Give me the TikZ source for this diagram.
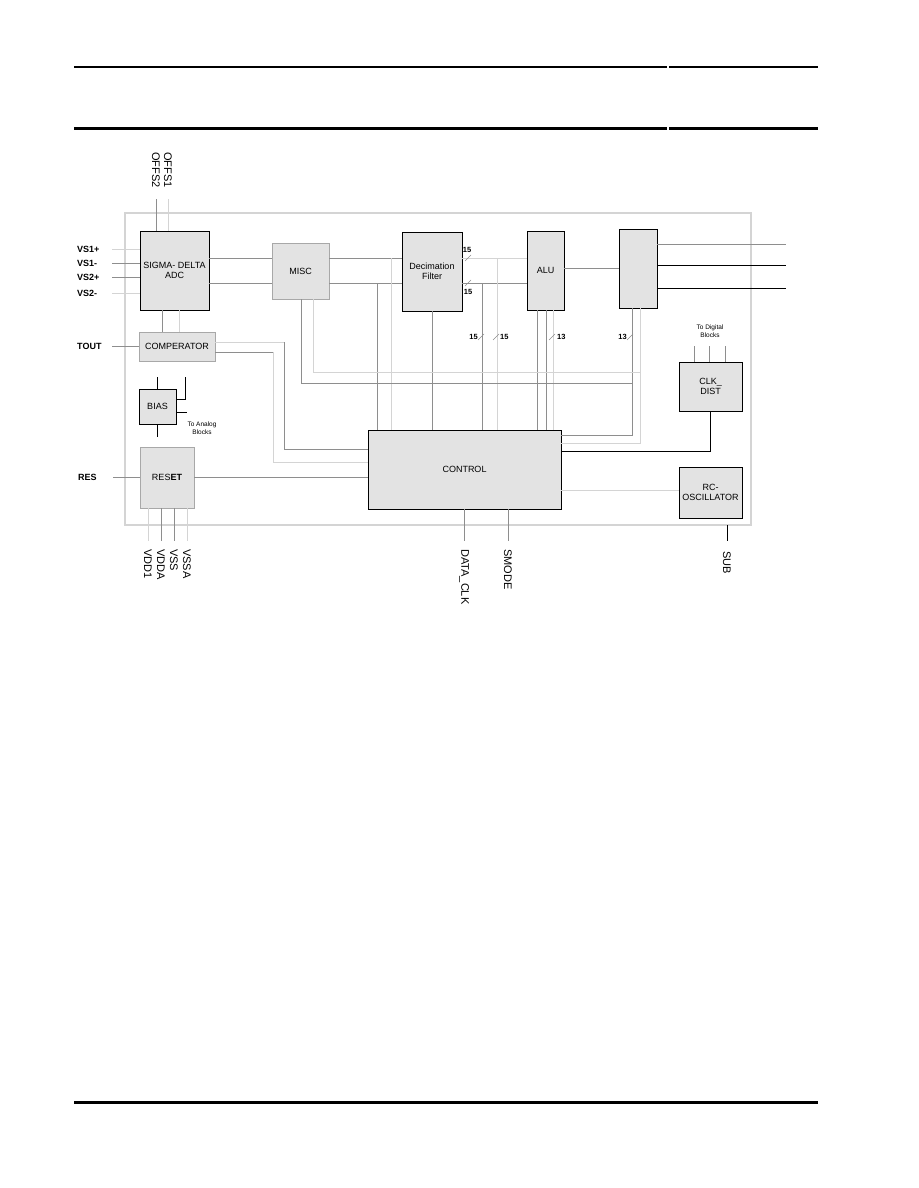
\documentclass[tikz,border=0pt]{standalone}
\usepackage{fontspec}
\setmainfont{Liberation Sans}
\definecolor{cFill}{HTML}{E3E3E3}
\definecolor{cWire}{HTML}{8E8E8E}
\definecolor{cLite}{HTML}{D4D4D4}
\definecolor{cEdge}{HTML}{A8A8A8}

\begin{document}
\begin{tikzpicture}[x=1pt,y=-1pt,line join=miter,
  blk/.style={draw=black,line width=1pt,fill=cFill,inner sep=0pt,outer sep=0pt,
    align=center,font=\fontsize{9}{10}\selectfont},
  soft/.style={blk,draw=cEdge},
  dk/.style={cWire,line width=0.9pt},
  lt/.style={cLite,line width=1pt},
  bk/.style={black,line width=1pt},
  slash/.style={cWire,line width=0.5pt},
  pin/.style={anchor=west,inner sep=0pt,font=\fontsize{9}{10}\selectfont\bfseries},
  vpin/.style={pin,rotate=-90,font=\fontsize{11}{12}\selectfont},
  bus/.style={inner sep=0pt,font=\fontsize{7.5}{9}\selectfont\bfseries},
  note/.style={align=center,inner sep=0pt,font=\fontsize{6.5}{7.5}\selectfont}]

  \useasboundingbox (0,0) rectangle (918,1188);

  % page rules
  \draw[line width=1.5pt] (74,67) -- (667,67) (669,67) -- (818,67);
  \draw[line width=3pt] (74,129) -- (667,129) (669,129) -- (818,129);
  \draw[line width=3pt] (74,1102) -- (818,1102);

  % chip outline
  \draw[cLite,line width=1.5pt] (125,213) rectangle (751,525);

  % blocks
  \node[blk,minimum width=69,minimum height=79] (adc) at (174.5,270.5) {SIGMA- DELTA\\ADC};
  \node[soft,minimum width=57,minimum height=56] (misc) at (300.5,271) {MISC};
  \node[blk,minimum width=60,minimum height=79] (dec) at (432,271.5) {Decimation\\Filter};
  \node[blk,minimum width=37,minimum height=79] (alu) at (545.5,270.5) {ALU};
  \node[blk,minimum width=38,minimum height=79] (reg) at (638,268.5) {};
  \node[soft,minimum width=76,minimum height=29] (comp) at (177,346.5) {COMPERATOR};
  \node[blk,minimum width=37,minimum height=35] (bias) at (157.5,406.5) {BIAS};
  \node[soft,minimum width=54,minimum height=61] (reset) at (167,477.5) {RES\textbf{ET}};
  \node[blk,minimum width=193,minimum height=79] (ctrl) at (464.5,469.5) {CONTROL};
  \node[blk,minimum width=63,minimum height=49] (clk) at (710.5,386.5) {CLK\_\\DIST};
  \node[blk,minimum width=63,minimum height=51] (rcosc) at (710.5,492.5) {RC-\\OSCILLATOR};

  % offset pins
  \node[vpin] (offs2) at (156,152) {OFFS2};
  \node[vpin] (offs1) at (168,152) {OFFS1};
  \coordinate (po2) at (156,199);
  \coordinate (po1) at (168,199);
  \draw[dk] (po2) -- (po2 |- adc.north);
  \draw[lt] (po1) -- (po1 |- adc.north);

  % analog inputs
  \foreach \i/\y/\t/\s in {1/249/VS1+/lt,2/263/VS1-/dk,3/277/VS2+/dk,4/293/VS2-/lt}{
    \node[pin] (vs\i) at (77,\y) {\t};
    \coordinate (pvs\i) at (112,\y);
    \draw[\s] (pvs\i) -- (pvs\i -| adc.west);
  }

  % adc -> misc -> decimation
  \draw[dk] (adc.east |- 0,258) -- (misc.west |- 0,258);
  \draw[dk] (adc.east |- 0,283) -- (misc.west |- 0,283);
  \draw[dk] (misc.east |- 0,258) -- (dec.west |- 0,258);
  \draw[dk] (misc.east |- 0,283) -- (dec.west |- 0,283);
  \draw[lt] (391,258) -- (391,0 |- ctrl.north);
  \draw[dk] (377,283) -- (377,0 |- ctrl.north);
  \draw[dk] (dec.south) -- (dec.south |- ctrl.north);

  % decimation -> alu
  \draw[lt] (dec.east |- 0,258) -- (alu.west |- 0,258);
  \draw[dk] (dec.east |- 0,283) -- (alu.west |- 0,283);
  \draw[lt] (497,258) -- (497,0 |- ctrl.north);
  \draw[dk] (482,283) -- (482,0 |- ctrl.north);

  % alu -> output register
  \draw[dk] (alu.east |- 0,268) -- (reg.west |- 0,268);
  \foreach \x in {537,546}
    \draw[dk] (\x,0 |- alu.south) -- (\x,0 |- ctrl.north);
  \draw[lt] (553,0 |- alu.south) -- (553,0 |- ctrl.north);

  % outputs
  \foreach \i/\y/\s in {1/244/dk,2/265/bk,3/288/bk}{
    \coordinate (pout\i) at (786,\y);
    \draw[\s] (reg.east |- pout\i) -- (pout\i);
  }

  % register feedback
  \draw[dk] (632,0 |- reg.south) |- (ctrl.east |- 0,435);
  \draw[lt] (640,0 |- reg.south) |- (ctrl.east |- 0,443);
  \draw[dk] (301,0 |- misc.south) |- (632,383);
  \draw[lt] (313,0 |- misc.south) |- (640,372);

  % bus widths
  \foreach \x/\y in {468/258,468/283,481/337,496/337,552/337,630/337}
    \draw[slash] (\x,\y) ++(-3,3) -- ++(6,-6);
  \node[bus] (w1) at (467,250) {15};
  \node[bus] (w2) at (468,292) {15};
  \node[bus,anchor=east] (w3) at (478,337) {15};
  \node[bus,anchor=west] (w4) at (500,337) {15};
  \node[bus,anchor=west] (w5) at (557,337) {13};
  \node[bus,anchor=east] (w6) at (627,337) {13};

  % comparator
  \draw[dk] (162,0 |- adc.south) -- (162,0 |- comp.north);
  \draw[lt] (179,0 |- adc.south) -- (179,0 |- comp.north);
  \node[pin] (tout) at (77,346) {TOUT};
  \coordinate (ptout) at (112,346);
  \draw[dk] (ptout) -- (ptout -| comp.west);
  \draw[lt] (comp.east |- 0,342) -- (284,342);
  \draw[dk] (284,342) |- (ctrl.west |- 0,449);
  \draw[dk] (comp.east |- 0,352) -- (273,352);
  \draw[lt] (273,352) |- (ctrl.west |- 0,462);

  % bias
  \draw[bk] (bias.north) -- ++(0,-12);
  \draw[bk] (bias.south) -- ++(0,13);
  \draw[bk] (bias.east |- 0,399) -| (185,377);
  \draw[bk] (bias.east |- 0,412) -- ++(11,0);
  \node[note] (toana) at (202,428) {To Analog\\Blocks};

  % reset
  \node[pin] (res) at (78,477) {RES};
  \coordinate (pres) at (113,477);
  \draw[dk] (pres) -- (pres -| reset.west);
  \draw[dk] (reset.east |- 0,477) -- (ctrl.west |- 0,477);
  \foreach \x/\t/\s in {148/VDD1/lt,161/VDDA/dk,174/VSS/dk,187/VSSA/lt}{
    \draw[\s] (\x,0 |- reset.south) -- (\x,541);
    \node[vpin] (p\t) at (\x,549) {\t};
  }

  % clock distribution
  \draw[bk] (ctrl.east |- 0,451) -| (clk.south);
  \foreach \x in {694,709,725}
    \draw[dk] (\x,0 |- clk.north) -- (\x,346);
  \node[note] (todig) at (710,331) {To Digital\\Blocks};
  \draw[lt] (ctrl.east |- 0,490) -- (rcosc.west |- 0,490);
  \draw[bk] (727,525) -- (727,541);
  \node[vpin] (sub) at (727,551) {SUB};

  % control pins
  \draw[dk] (464,0 |- ctrl.south) -- (464,541);
  \node[vpin] (dclk) at (464,549) {DATA\_CLK};
  \draw[dk] (508,0 |- ctrl.south) -- (508,541);
  \node[vpin] (smode) at (508,549) {SMODE};

\end{tikzpicture}
\end{document}
